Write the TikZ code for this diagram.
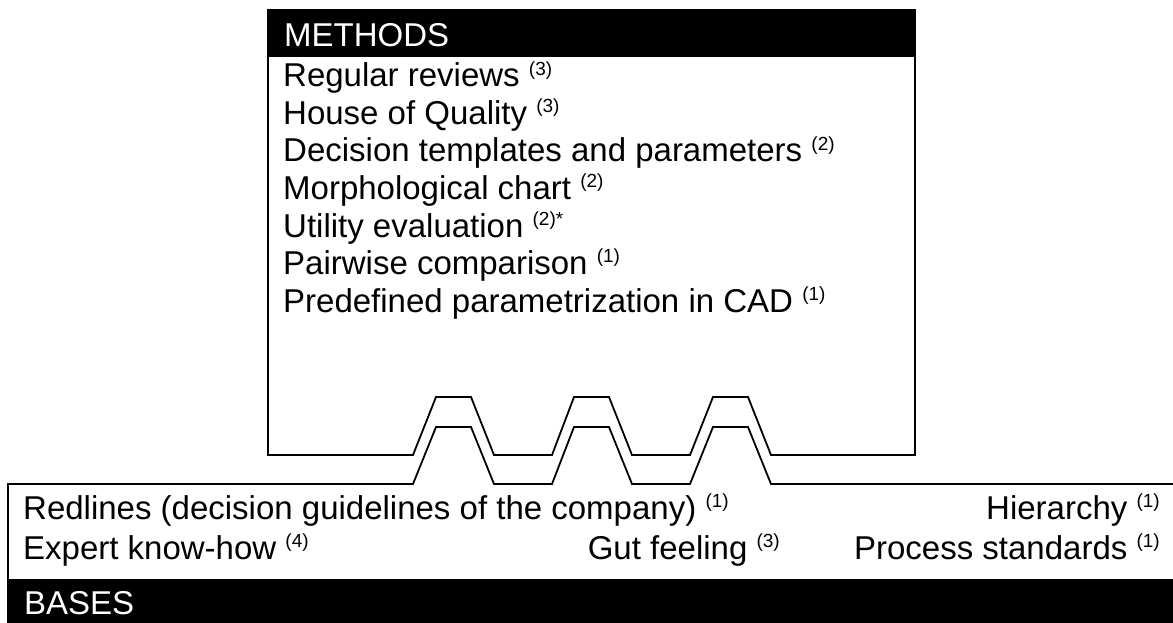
\documentclass[tikz,border=0pt]{standalone}
\usepackage{fontspec}
\setmainfont{Liberation Sans}
\newcommand\supnum[1]{\raisebox{0.36em}{\fontsize{19}{19}\selectfont #1}}
\begin{document}
\begin{tikzpicture}[x=1pt,y=-1pt,
  outline/.style={line width=1.8pt, line join=miter},
  txt/.style={anchor=base west, inner sep=0pt, font=\fontsize{33}{38}\selectfont},
  rtxt/.style={anchor=base east, inner sep=0pt, font=\fontsize{33}{38}\selectfont},
  htxt/.style={anchor=base west, inner sep=0pt, text=white, font=\fontsize{33}{38}\selectfont}]
\useasboundingbox (0,0) rectangle (1173,623);
\clip (0,0) rectangle (1173,623);
% METHODS box
\draw[outline, fill=white] (268,10) -- (915,10) -- (915,455) -- (771,455) -- (748,397) -- (713,397) -- (690,455)
  -- (632,455) -- (609,397) -- (574,397) -- (552,455) -- (494,455) -- (471,397) -- (436,397) -- (413,455) -- (268,455) -- cycle;
\fill[black] (267.1,9.1) rectangle (915.9,57);
\node[htxt] (mh) at (284,46.5) {METHODS};
\node[txt] (m1) at (283,87) {Regular reviews \supnum{(3)}};
\node[txt] (m2) at (283,124.5) {House of Quality \supnum{(3)}};
\node[txt] (m3) at (283,162) {Decision templates and parameters \supnum{(2)}};
\node[txt] (m4) at (283,199.5) {Morphological chart \supnum{(2)}};
\node[txt] (m5) at (283,237) {Utility evaluation \supnum{(2)*}};
\node[txt] (m6) at (283,274.5) {Pairwise comparison \supnum{(1)}};
\node[txt] (m7) at (283,312) {Predefined parametrization in CAD \supnum{(1)}};
% BASES box
\draw[outline] (8,640) -- (8,484) -- (413,484) -- (436,427) -- (471,427) -- (494,484) -- (552,484) -- (574,427)
  -- (609,427) -- (632,484) -- (690,484) -- (713,427) -- (748,427) -- (771,484) -- (1190,484);
\fill[black] (7.1,579) rectangle (1190,640);
\node[txt] (b1) at (23,519) {Redlines (decision guidelines of the company) \supnum{(1)}};
\node[rtxt] (b2) at (1160,519) {Hierarchy \supnum{(1)}};
\node[txt] (b3) at (23,559) {Expert know-how \supnum{(4)}};
\node[rtxt] (b4) at (780,559) {Gut feeling \supnum{(3)}};
\node[rtxt] (b5) at (1160,559) {Process standards \supnum{(1)}};
\node[htxt] (bh) at (24,614) {BASES};
\end{tikzpicture}
\end{document}
